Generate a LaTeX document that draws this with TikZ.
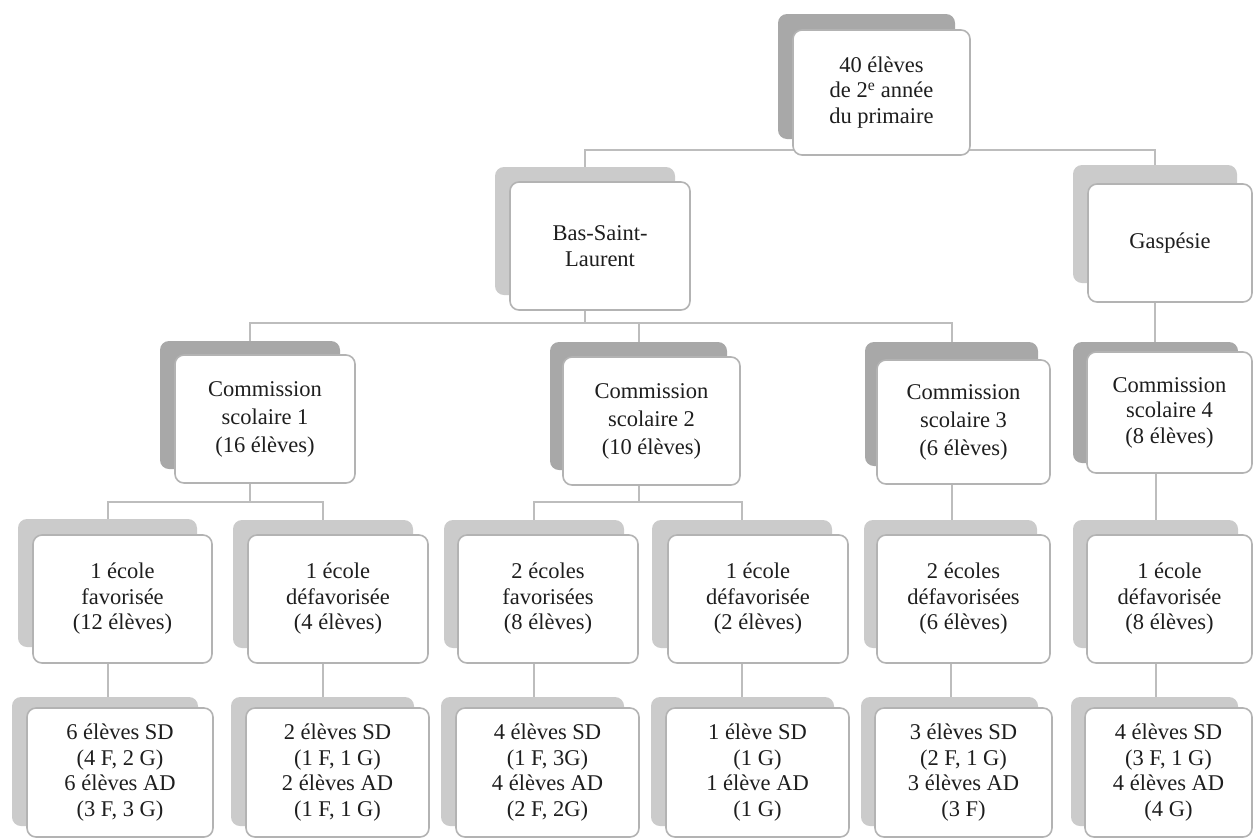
\documentclass[tikz,border=0pt]{standalone}
\usepackage{fontspec}
\setmainfont{Liberation Serif}
\pgfdeclarelayer{bg}
\pgfsetlayers{bg,main}
\definecolor{shdark}{HTML}{A8A8A8}
\definecolor{shlight}{HTML}{CBCBCB}
\definecolor{bord}{HTML}{B3B3B3}
\definecolor{connc}{HTML}{BDBDBD}
\definecolor{txt}{HTML}{1E1E1E}
\tikzset{
  shbox/.style={rectangle, rounded corners=9pt, draw=none, inner sep=0pt},
  wbox/.style={rectangle, rounded corners=9pt, draw=bord, line width=1.6pt, fill=white,
     inner sep=0pt, align=center, text=txt, font=\fontsize{22.5}{25.5}\selectfont},
  widelead/.style={font=\fontsize{22.5}{28}\selectfont},
  conn/.style={draw=connc, line width=2pt}
}
% name, cx, cy, w, h, dx, dy, shadow colour, text
\newcommand\obox[9]{%
  \node[shbox, fill=#8, minimum width=#4pt, minimum height=#5pt] (s#1) at ({#2+(#6)},{#3+(#7)}) {};
  \node[wbox, minimum width=#4pt, minimum height=#5pt] (#1) at (#2,#3) {#9};
}
\newcommand\oboxw[9]{%
  \node[shbox, fill=#8, minimum width=#4pt, minimum height=#5pt] (s#1) at ({#2+(#6)},{#3+(#7)}) {};
  \node[wbox, widelead, minimum width=#4pt, minimum height=#5pt] (#1) at (#2,#3) {#9};
}
\begin{document}
\begin{tikzpicture}[x=1pt,y=-1pt]
\useasboundingbox (0,0) rectangle (1257,839);
% level 1
\obox{Top}{881.5}{92.5}{177}{125}{-15}{-16}{shdark}{40 élèves\\de 2\textsuperscript{e} année\\du primaire}
% level 2
\obox{BSL}{600}{246}{180}{128}{-15}{-15}{shlight}{Bas-Saint-\\Laurent}
\obox{Gas}{1170}{243}{164}{118}{-15}{-19}{shlight}{Gaspésie}
% level 3
\oboxw{CA}{265}{419}{180}{128}{-15}{-14}{shdark}{Commission\\scolaire 1\\(16 élèves)}
\oboxw{CB}{651.5}{421}{177}{128}{-13}{-15}{shdark}{Commission\\scolaire 2\\(10 élèves)}
\oboxw{CC}{963.5}{422}{173}{124}{-12}{-18}{shdark}{Commission\\scolaire 3\\(6 élèves)}
\obox{CD}{1169.5}{412.5}{165}{121}{-14}{-10}{shdark}{Commission\\scolaire 4\\(8 élèves)}
% level 4
\obox{BA}{122.5}{599}{179}{128}{-15}{-16}{shlight}{1 école\\favorisée\\(12 élèves)}
\obox{BB}{338}{599}{180}{128}{-15}{-15}{shlight}{1 école\\défavorisée\\(4 élèves)}
\obox{BC}{548}{599}{180}{128}{-14}{-15}{shlight}{2 écoles\\favorisées\\(8 élèves)}
\obox{BD}{758}{599}{180}{128}{-16}{-15}{shlight}{1 école\\défavorisée\\(2 élèves)}
\obox{BE}{963.5}{599}{173}{128}{-13}{-15}{shlight}{2 écoles\\défavorisées\\(6 élèves)}
\obox{BF}{1169.5}{599}{165}{128}{-14}{-15}{shlight}{1 école\\défavorisée\\(8 élèves)}
% level 5
\obox{LA}{120}{772.5}{186}{129}{-15}{-11}{shlight}{6 élèves SD\\(4 F, 2 G)\\6 élèves AD\\(3 F, 3 G)}
\obox{LB}{337.5}{772.5}{183}{129}{-15}{-11}{shlight}{2 élèves SD\\(1 F, 1 G)\\2 élèves AD\\(1 F, 1 G)}
\obox{LC}{547.5}{772.5}{183}{129}{-15}{-11}{shlight}{4 élèves SD\\(1 F, 3G)\\4 élèves AD\\(2 F, 2G)}
\obox{LD}{757.5}{772.5}{183}{129}{-15}{-11}{shlight}{1 élève SD\\(1 G)\\1 élève AD\\(1 G)}
\obox{LE}{963.5}{772.5}{177}{129}{-14}{-11}{shlight}{3 élèves SD\\(2 F, 1 G)\\3 élèves AD\\(3 F)}
\obox{LF}{1168.5}{772.5}{167}{129}{-14}{-11}{shlight}{4 élèves SD\\(3 F, 1 G)\\4 élèves AD\\(4 G)}
% connectors
\begin{pgfonlayer}{bg}
\coordinate (j0) at (sTop.center |- 0,150);
\draw[conn] (sTop.center) -- (j0);
\draw[conn] (sBSL.north) |- (j0) -| (sGas.north);
\coordinate (j1) at (sBSL.center |- 0,323);
\draw[conn] (sBSL.center) -- (j1);
\draw[conn] (sCA.north) |- (j1) -| (sCC.north);
\draw[conn] (j1 -| sCB.north) -- (sCB.north);
\draw[conn] (sGas.center) -- (sGas.center |- sCD.north);
\coordinate (j2) at (sCA.center |- 0,502);
\draw[conn] (sCA.center) -- (j2);
\draw[conn] (sBA.north) |- (j2) -| (sBB.north);
\coordinate (j3) at (sCB.center |- 0,502);
\draw[conn] (sCB.center) -- (j3);
\draw[conn] (sBC.north) |- (j3) -| (sBD.north);
\draw[conn] (sCC.center) -- (sCC.center |- sBE.north);
\draw[conn] (sCD.center) -- (sCD.center |- sBF.north);
\foreach \u/\l in {BA/LA,BB/LB,BC/LC,BD/LD,BE/LE,BF/LF}{
  \draw[conn] (s\u.center) -- (s\u.center |- s\l.north);
}
\end{pgfonlayer}
\end{tikzpicture}
\end{document}
